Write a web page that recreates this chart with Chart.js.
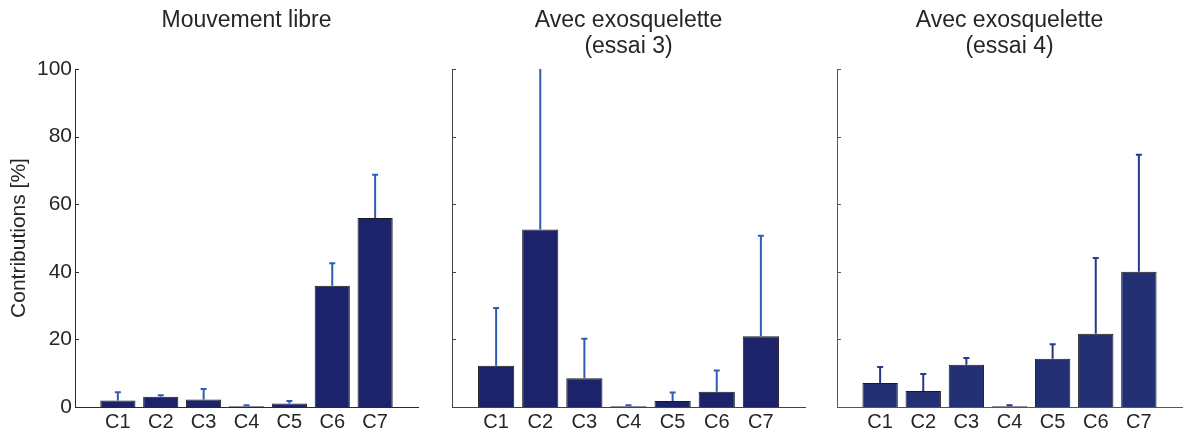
<!DOCTYPE html>
<html>
<head>
<meta charset="utf-8">
<script src="https://cdn.jsdelivr.net/npm/chart.js@4"></script>
<style>
  html, body { margin: 0; padding: 0; background: #fff; }
  #wrap { position: relative; width: 1186px; height: 434px; overflow: hidden; }
  canvas { position: absolute; top: 0; }
</style>
</head>
<body>
<div id="wrap">
  <canvas id="c1" width="420" height="434" style="left:0px"></canvas>
  <canvas id="c2" width="387" height="434" style="left:420px"></canvas>
  <canvas id="c3" width="379" height="434" style="left:807px"></canvas>
</div>
<script>
const categories = ['C1', 'C2', 'C3', 'C4', 'C5', 'C6', 'C7'];
const yTicks = [0, 20, 40, 60, 80, 100];

// mean contributions and upper std, per condition
const libreMeans = [1.9, 3.0, 2.2, 0.2, 1.0, 35.9, 55.9];
const libreSD = [2.5, 0.5, 3.1, 0.3, 0.8, 6.6, 12.8];

const essai3Means = [12.2, 52.5, 8.5, 0.2, 1.8, 4.5, 20.9];
const essai3SD = [17.1, 52.0, 11.7, 0.3, 2.5, 6.3, 29.8];

const essai4Means = [7.1, 4.7, 12.5, 0.2, 14.3, 21.7, 40.0];
const essai4SD = [4.7, 5.1, 2.0, 0.3, 4.3, 22.4, 34.6];

const textColor = '#262626';
Chart.defaults.font.family = "'Liberation Sans', Arial, Helvetica, sans-serif";

// upper error bars, drawn through the chart scales
const errorBars = {
    id: 'errorBars',
    afterDatasetsDraw(chart, args, opts) {
        const ctx = chart.ctx;
        const xs = chart.scales.x, ys = chart.scales.y;
        const area = chart.chartArea;
        ctx.save();
        ctx.beginPath();
        ctx.rect(area.left, area.top, area.right - area.left, area.bottom - area.top);
        ctx.clip();
        ctx.strokeStyle = opts.color;
        ctx.lineWidth = 2;
        opts.means.forEach((m, i) => {
            const x = xs.getPixelForValue(i + 1);
            const y0 = ys.getPixelForValue(m);
            const y1 = ys.getPixelForValue(m + opts.sd[i]);
            ctx.beginPath();
            ctx.moveTo(x, y0);
            ctx.lineTo(x, y1);
            ctx.moveTo(x - 3, y1);
            ctx.lineTo(x + 3, y1);
            ctx.stroke();
        });
        ctx.restore();
    }
};

// matlab style ticks pointing into the plot
const inwardTicks = {
    id: 'inwardTicks',
    afterDraw(chart, args, opts) {
        const ctx = chart.ctx;
        const ys = chart.scales.y;
        const left = chart.chartArea.left;
        ctx.save();
        ctx.strokeStyle = opts.color;
        ctx.lineWidth = 1;
        ys.ticks.forEach(t => {
            const y = Math.round(ys.getPixelForValue(t.value)) + 0.5;
            ctx.beginPath();
            ctx.moveTo(left, y);
            ctx.lineTo(left + 4, y);
            ctx.stroke();
        });
        ctx.restore();
    }
};

function makePanel(id, p) {
    const ctx = document.getElementById(id).getContext('2d');
    return new Chart(ctx, {
        type: 'bar',
        data: {
            datasets: [{
                data: p.means.map((m, i) => ({ x: i + 1, y: m })),
                backgroundColor: p.barColor,
                borderColor: '#1a1a1a',
                borderWidth: 1,
                categoryPercentage: 1,
                barPercentage: 0.82
            }]
        },
        plugins: [errorBars, inwardTicks],
        options: {
            responsive: false,
            animation: false,
            events: [],
            layout: { padding: { left: 0, right: p.padRight, top: 0, bottom: 0 } },
            plugins: {
                legend: { display: false },
                tooltip: { enabled: false },
                title: {
                    display: true,
                    text: p.title,
                    fullSize: false,
                    color: textColor,
                    font: { size: 23, weight: 'normal', lineHeight: '26px' },
                    padding: { top: 8, bottom: p.titleGap }
                },
                errorBars: { means: p.means, sd: p.sd, color: p.errColor },
                inwardTicks: { color: p.axisColor }
            },
            scales: {
                x: {
                    type: 'linear',
                    min: 0,
                    max: 8,
                    offset: false,
                    afterBuildTicks: s => { s.ticks = categories.map((c, i) => ({ value: i + 1 })); },
                    afterFit: s => { s.height = 27; },
                    grid: { display: false, drawTicks: false, offset: false },
                    border: { display: true, color: p.axisColor, width: 1 },
                    ticks: {
                        padding: 3,
                        color: textColor,
                        font: { size: 20 },
                        maxRotation: 0,
                        autoSkip: false,
                        callback: (v, i) => categories[i]
                    }
                },
                y: {
                    min: 0,
                    max: 100,
                    afterBuildTicks: s => { s.ticks = yTicks.map(v => ({ value: v })); },
                    afterFit: s => { s.width = p.yWidth; },
                    grid: { display: false, drawTicks: false },
                    border: { display: true, color: p.axisColor, width: 1 },
                    ticks: { display: p.showY, padding: 3, color: textColor, font: { size: 21 } },
                    title: {
                        display: p.showY,
                        text: 'Contributions [%]',
                        color: textColor,
                        font: { size: 21 },
                        padding: { top: 7, bottom: 0 }
                    }
                }
            }
        }
    });
}

makePanel('c1', {
    title: 'Mouvement libre', titleGap: 35,
    means: libreMeans, sd: libreSD,
    barColor: '#1d236a', errColor: '#2e5db5', axisColor: '#2a2a2a',
    yWidth: 75, padRight: 2, showY: true
});
makePanel('c2', {
    title: ['Avec exosquelette', '(essai 3)'], titleGap: 9,
    means: essai3Means, sd: essai3SD,
    barColor: '#1d236a', errColor: '#2e5db5', axisColor: '#444444',
    yWidth: 32, padRight: 2, showY: false
});
makePanel('c3', {
    title: ['Avec exosquelette', '(essai 4)'], titleGap: 9,
    means: essai4Means, sd: essai4SD,
    barColor: '#233174', errColor: '#27378a', axisColor: '#555555',
    yWidth: 30, padRight: 4, showY: false
});
</script>
</body>
</html>
